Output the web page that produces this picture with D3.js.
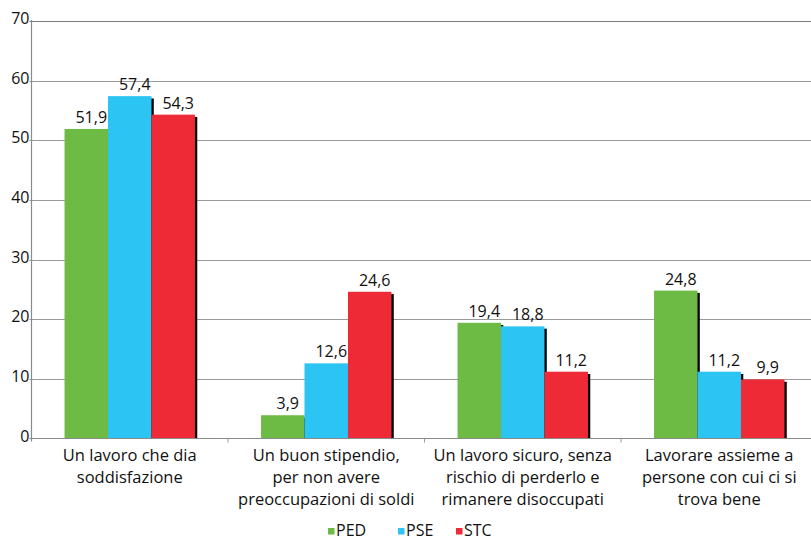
<!DOCTYPE html>
<html>
<head>
<meta charset="utf-8">
<script src="https://cdn.jsdelivr.net/npm/d3@7"></script>
<style>
  html, body { margin: 0; padding: 0; background: #fff; }
  svg { display: block; font-family: "Open Sans", sans-serif; }
</style>
</head>
<body>
<svg id="chart" width="811" height="540"></svg>
<script>
const categories = [
  ["Un lavoro che dia", "soddisfazione"],
  ["Un buon stipendio,", "per non avere", "preoccupazioni di soldi"],
  ["Un lavoro sicuro, senza", "rischio di perderlo e", "rimanere disoccupati"],
  ["Lavorare assieme a", "persone con cui ci si", "trova bene"]
];
const seriesNames = ["PED", "PSE", "STC"];
const PED = [51.9, 3.9, 19.4, 24.8];
const PSE = [57.4, 12.6, 18.8, 11.2];
const STC = [54.3, 24.6, 11.2, 9.9];
const yTicks = [0, 10, 20, 30, 40, 50, 60, 70];
const colors = { PED: "#6dbb45", PSE: "#2cc4f3", STC: "#ed2a36" };

const seriesValues = { PED, PSE, STC };
const svg = d3.select("#chart");
const W = 811;
const left = 31.5, bandW = 196.5;
const x = d3.scaleBand().domain(d3.range(categories.length))
  .range([left, left + bandW * categories.length]).paddingInner(0).paddingOuter(0);
const xs = d3.scaleBand().domain(seriesNames).range([0, x.bandwidth()])
  .paddingInner(0).paddingOuter(0.76);
const y = d3.scaleLinear().domain([0, 70]).range([438.5, 21]);

// gridlines
svg.append("g").selectAll("line").data(yTicks.filter(t => t > 0)).join("line")
  .attr("x1", left - 2).attr("x2", W)
  .attr("y1", d => Math.round(y(d)) + 0.5).attr("y2", d => Math.round(y(d)) + 0.5)
  .attr("stroke", d => d === 70 ? "#7a7a7a" : "#9a9a9a").attr("stroke-width", 1.2);

// y tick labels
svg.append("g").selectAll("text").data(yTicks).join("text")
  .attr("x", 29.5).attr("y", d => y(d) + 3)
  .attr("text-anchor", "end").attr("font-size", 16).attr("fill", "#111")
  .text(d => d);

// bars
const groups = svg.append("g").selectAll("g").data(categories).join("g")
  .attr("transform", (d, i) => `translate(${x(i)},0)`);
groups.each(function(c, i) {
  const g = d3.select(this);
  seriesNames.forEach(s => {
    const v = seriesValues[s][i];
    g.append("rect")
      .attr("x", xs(s) + 2.3).attr("y", y(v) + 2.3)
      .attr("width", xs.bandwidth()).attr("height", y(0) - y(v) - 2.3)
      .attr("fill", "#000");
    g.append("rect")
      .attr("x", xs(s)).attr("y", y(v))
      .attr("width", xs.bandwidth()).attr("height", y(0) - y(v))
      .attr("fill", colors[s]);
  });
  seriesNames.forEach(s => {
    const v = seriesValues[s][i];
    g.append("text")
      .attr("x", xs(s) + xs.bandwidth() / 2 + 5).attr("y", y(v) - 6)
      .attr("text-anchor", "middle").attr("font-size", 16).attr("fill", "#111")
      .text(d3.format(".1f")(v).replace(".", ","));
  });
});

// axes lines
svg.append("line").attr("x1", left).attr("x2", left).attr("y1", y(70) - 1).attr("y2", y(0) + 3)
  .attr("stroke", "#8a8a8a").attr("stroke-width", 1.2);
svg.append("line").attr("x1", left - 2).attr("x2", W).attr("y1", y(0)).attr("y2", y(0))
  .attr("stroke", "#8a8a8a").attr("stroke-width", 1.2);
svg.append("g").selectAll("line").data(d3.range(1, categories.length)).join("line")
  .attr("x1", d => x(d)).attr("x2", d => x(d))
  .attr("y1", y(0)).attr("y2", y(0) + 4)
  .attr("stroke", "#9a9a9a").attr("stroke-width", 1);

// category labels
const lab = svg.append("g").selectAll("text").data(categories).join("text")
  .attr("text-anchor", "middle").attr("font-size", 16.5).attr("fill", "#111");
lab.each(function(lines, i) {
  d3.select(this).selectAll("tspan").data(lines).join("tspan")
    .attr("x", x(i) + x.bandwidth() / 2)
    .attr("y", (d, j) => 460.5 + j * 22.4)
    .text(d => d);
});

// legend
const legendX = [328, 398, 456];
const leg = svg.append("g").selectAll("g").data(seriesNames).join("g")
  .attr("transform", (d, i) => `translate(${legendX[i]},0)`);
leg.append("rect").attr("x", 0).attr("y", 528).attr("width", 6.5).attr("height", 6.5)
  .attr("fill", d => colors[d]);
leg.append("text").attr("x", 8).attr("y", 536).attr("font-size", 16).attr("fill", "#111")
  .text(d => d);
</script>
</body>
</html>
